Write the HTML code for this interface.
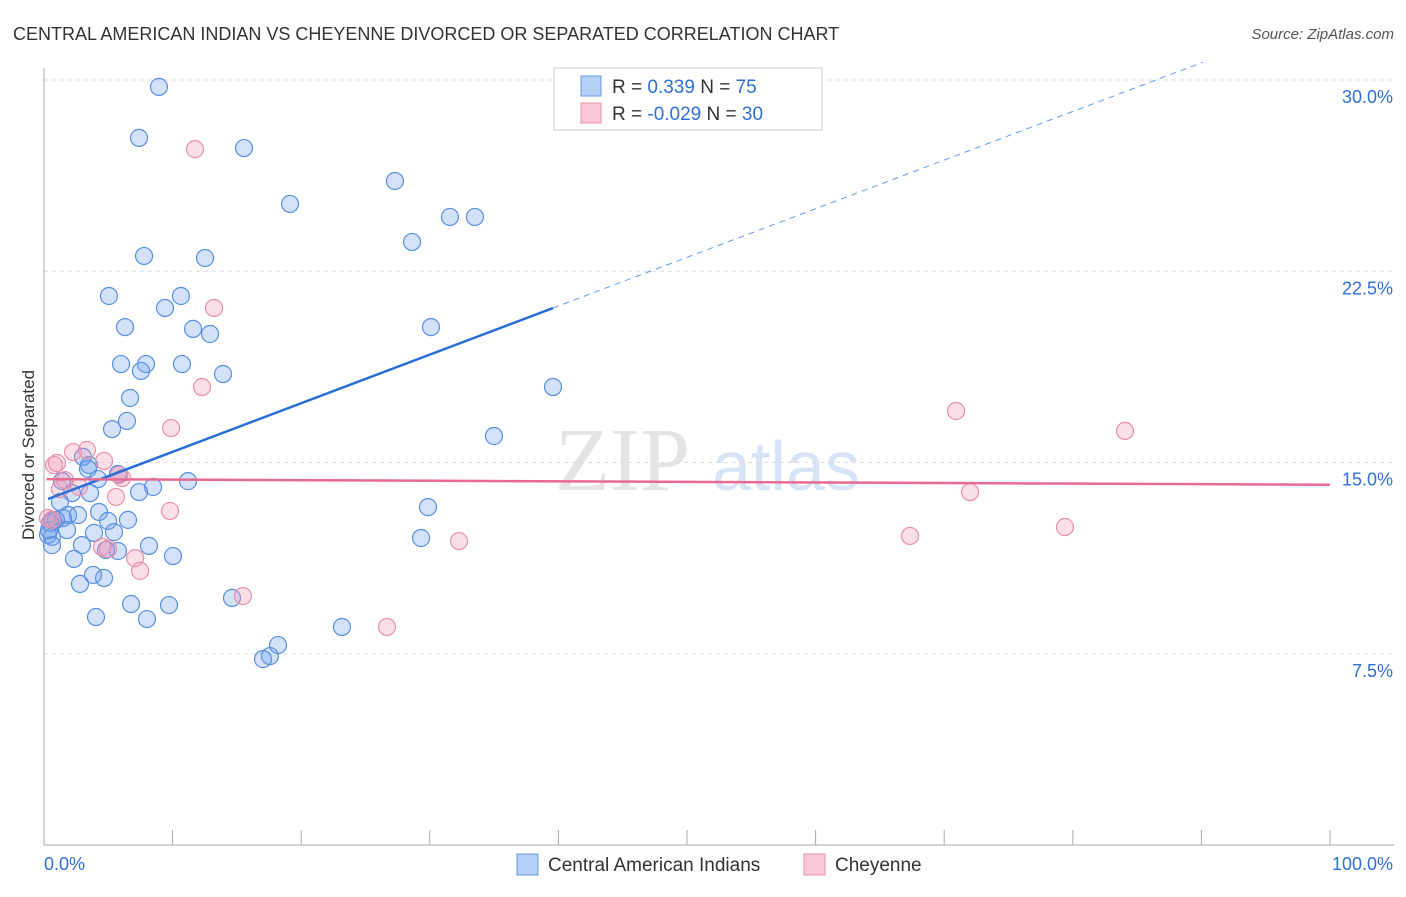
<!DOCTYPE html>
<html><head><meta charset="utf-8"><style>
body{margin:0;background:#fff;font-family:"Liberation Sans",sans-serif}
</style></head><body>
<svg id="chart" width="1406" height="892" xmlns="http://www.w3.org/2000/svg" font-family="Liberation Sans, sans-serif">
<text x="13" y="40" font-size="18" fill="#333">CENTRAL AMERICAN INDIAN VS CHEYENNE DIVORCED OR SEPARATED CORRELATION CHART</text>
<text x="1394" y="39" font-size="15" fill="#555" font-style="italic" text-anchor="end">Source: ZipAtlas.com</text>
<text x="555" y="490" font-size="90" fill="#e4e4e4" font-family="Liberation Serif, serif">ZIP</text>
<text x="712" y="490" font-size="70" fill="#d6e4f5">atlas</text>
<text transform="translate(34,455) rotate(-90)" font-size="17" fill="#333" text-anchor="middle">Divorced or Separated</text>
<g id="grid"></g><g id="axes"></g><g id="marks"></g>
<g>
<rect x="554" y="68" width="268" height="62" fill="#fff" stroke="#ccc"/>
<rect x="581" y="76" width="20" height="20" fill="#b5d0f5" stroke="#6a9ae0"/>
<rect x="581" y="103" width="20" height="20" fill="#f9c7d6" stroke="#e890aa"/>
<text x="612" y="93" font-size="19" fill="#333">R = <tspan fill="#2f6fd6"> 0.339</tspan>   N = <tspan fill="#2f6fd6">75</tspan></text>
<text x="612" y="120" font-size="19" fill="#333">R = <tspan fill="#2f6fd6">-0.029</tspan>   N = <tspan fill="#2f6fd6">30</tspan></text>
</g>
<g>
<rect x="517" y="854" width="21" height="21" fill="#b5d0f5" stroke="#6a9ae0"/>
<text x="548" y="871" font-size="19" fill="#333">Central American Indians</text>
<rect x="804" y="854" width="21" height="21" fill="#f9c7d6" stroke="#e890aa"/>
<text x="835" y="871" font-size="19" fill="#333">Cheyenne</text>
</g>
</svg>
<script>
const blueX=[8.94,7.39,15.55,27.29,19.13,31.57,33.51,28.62,7.78,12.52,5.05,10.65,9.41,6.30,11.59,12.91,30.09,5.99,7.93,10.73,7.54,13.92,39.58,6.69,6.45,5.29,34.99,3.03,3.50,3.42,4.20,1.40,11.20,8.48,7.39,3.58,2.18,5.75,1.24,29.86,4.28,1.87,1.48,2.64,0.93,0.47,0.70,4.98,6.53,5.44,3.89,1.79,0.62,0.31,0.62,2.95,8.16,29.32,10.03,2.33,5.75,4.82,3.81,4.67,2.80,14.62,6.77,9.72,4.04,8.01,23.17,18.20,17.03,17.57,0.39];
const blueY=[29.73,27.73,27.33,26.04,25.14,24.63,24.63,23.65,23.10,23.02,21.53,21.53,21.06,20.31,20.24,20.04,20.31,18.86,18.86,18.86,18.59,18.47,17.96,17.53,16.63,16.31,16.04,15.22,14.90,14.75,14.35,14.27,14.27,14.04,13.84,13.80,13.80,14.55,13.45,13.25,13.06,12.94,12.82,12.94,12.75,12.63,12.71,12.71,12.75,12.27,12.24,12.35,12.08,12.16,11.76,11.76,11.73,12.04,11.33,11.22,11.53,11.57,10.59,10.47,10.24,9.69,9.45,9.41,8.94,8.86,8.55,7.84,7.29,7.41,12.35];
const pinkX=[11.74,13.22,12.29,9.88,70.92,84.06,2.26,3.34,4.67,1.01,0.78,1.63,2.72,6.07,5.83,5.60,72.01,9.80,79.39,67.34,32.27,4.51,4.98,7.08,7.47,15.47,26.67,0.31,0.62,1.24];
const pinkY=[27.29,21.06,17.96,16.35,17.02,16.24,15.41,15.49,15.06,14.98,14.90,14.31,14.04,14.39,14.51,13.65,13.84,13.10,12.47,12.12,11.92,11.69,11.61,11.25,10.75,9.76,8.55,12.82,12.75,13.96];
const yTicks=[7.5,15,22.5,30];
const yTickLabels=["7.5%","15.0%","22.5%","30.0%"];
const xTicks=[0,10,20,30,40,50,60,70,80,90,100];
const xEndLabels=["0.0%","100.0%"];
const NS="http://www.w3.org/2000/svg";
const xs=v=>44+v*12.86, ys=v=>845-v*25.5;
function mk(tag,attrs,parent){const e=document.createElementNS(NS,tag);for(const k in attrs)e.setAttribute(k,attrs[k]);parent.appendChild(e);return e;}
const grid=document.getElementById('grid'),axes=document.getElementById('axes'),marks=document.getElementById('marks');
yTicks.forEach((t,i)=>{
 const l=mk('line',{x1:44,x2:1394,y1:ys(t),y2:ys(t),stroke:'#ddd','stroke-dasharray':'4,4'},grid);
 
 
 const tx=mk('text',{x:1393,y:ys(t)+23,'font-size':18,fill:'#2f6fd6','text-anchor':'end'},axes);
 tx.textContent=yTickLabels[i];
 
 
});
const ya=mk('line',{x1:44,x2:44,y1:68,y2:845,stroke:'#aaa'},axes);


const xa=mk('line',{x1:44,x2:1394,y1:845,y2:845,stroke:'#aaa'},axes);


xTicks.forEach(t=>{
 const l=mk('line',{x1:xs(t),x2:xs(t),y1:830,y2:845,stroke:'#aaa'},axes);
 
 
});
const xl0=mk('text',{x:44,y:870,'font-size':18,fill:'#2f6fd6'},axes);xl0.textContent=xEndLabels[0];


const xl1=mk('text',{x:1393,y:870,'font-size':18,fill:'#2f6fd6','text-anchor':'end'},axes);xl1.textContent=xEndLabels[1];


function draw(X,Y,fill,stroke,name){X.forEach((x,i)=>{
 const c=mk('circle',{cx:xs(x),cy:ys(Y[i]),r:8.5,fill:fill,stroke:stroke,'stroke-width':1.2},marks);
 
 
});}
draw(blueX,blueY,'rgba(110,160,235,0.3)','#5b8fe0','central-american-indian-point');
draw(pinkX,pinkY,'rgba(242,150,180,0.3)','#e890aa','cheyenne-point');
function fit(X,Y){const n=X.length;let mx=0,my=0;X.forEach((x,i)=>{mx+=x;my+=Y[i];});mx/=n;my/=n;let sxy=0,sxx=0;X.forEach((x,i)=>{sxy+=(x-mx)*(Y[i]-my);sxx+=(x-mx)*(x-mx);});const b=sxy/sxx;return [my-b*mx,b];}
const [ba,bb]=fit(blueX,blueY), bmin=Math.min(...blueX), bmax=Math.max(...blueX);
const bl=mk('line',{x1:xs(bmin),y1:ys(ba+bb*bmin),x2:xs(bmax),y2:ys(ba+bb*bmax),stroke:'#2a6fd8','stroke-width':2.5},marks);


let xe=100; if(ba+bb*100>30.7) xe=(30.7-ba)/bb;
const bd=mk('line',{x1:xs(bmax),y1:ys(ba+bb*bmax),x2:xs(xe),y2:ys(ba+bb*xe),stroke:'#6a9ae0','stroke-width':1,'stroke-dasharray':'6,5'},marks);


const [pa,pb]=fit(pinkX,pinkY);
const pl=mk('line',{x1:xs(0.2),y1:ys(pa+pb*0.2),x2:xs(100),y2:ys(pa+pb*100),stroke:'#e86a93','stroke-width':2.5},marks);


</script>
</body></html>
